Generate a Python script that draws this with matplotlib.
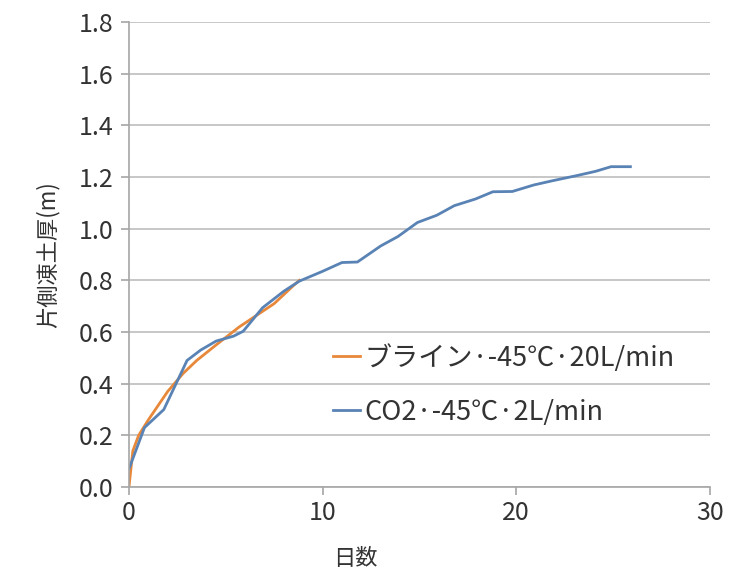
import matplotlib
matplotlib.use("Agg")
import matplotlib.pyplot as plt

plt.rcParams['font.family'] = ['Noto Sans CJK JP', 'DejaVu Sans']

# ブライン (brine) -45℃ 20L/min
brine_days = [0.0, 0.2, 0.5, 1.0, 2.0, 2.8, 3.5, 4.5, 5.7, 6.5, 7.5, 8.5, 8.8]
brine_thick = [0.0, 0.14, 0.20, 0.26, 0.37, 0.44, 0.49, 0.55, 0.62, 0.66, 0.71, 0.78, 0.80]

# CO2 -45℃ 2L/min
co2_days = [0.0, 0.8, 1.8, 3.0, 3.7, 4.5, 5.4, 5.9, 6.9, 8.0, 8.8, 10.0, 11.0, 11.8,
            13.0, 13.9, 14.9, 15.9, 16.8, 17.9, 18.8, 19.8, 20.9, 21.9, 23.1, 24.1,
            24.9, 25.9]
co2_thick = [0.07, 0.23, 0.30, 0.49, 0.53, 0.565, 0.584, 0.603, 0.694, 0.758, 0.797,
             0.835, 0.869, 0.871, 0.933, 0.97, 1.024, 1.052, 1.089, 1.115, 1.143,
             1.144, 1.169, 1.186, 1.205, 1.222, 1.24, 1.24]

x_ticks = [0, 10, 20, 30]
y_ticks = [0.0, 0.2, 0.4, 0.6, 0.8, 1.0, 1.2, 1.4, 1.6, 1.8]

fig = plt.figure(figsize=(7.34, 5.73), dpi=100)
ax = fig.add_axes([0.1757, 0.150, 0.967 - 0.1757, 0.9616 - 0.150])

ax.plot(brine_days, brine_thick, color='#E8883A', lw=2.0, label='ブライン·-45℃·20L/min')
ax.plot(co2_days, co2_thick, color='#5A83B5', lw=2.0, label='CO2·-45℃·2L/min')

ax.set_xlim(0, 30)
ax.set_ylim(0, 1.8)
ax.set_xticks(x_ticks)
ax.set_yticks(y_ticks)
ax.set_yticklabels([f'{v:.1f}' for v in y_ticks])
ax.grid(axis='y', color='#BEBEBE', lw=1.2)
ax.set_axisbelow(True)

for s in ['top', 'right']:
    ax.spines[s].set_visible(False)
for s in ['left', 'bottom']:
    ax.spines[s].set_color('#A6A6A6')
    ax.spines[s].set_linewidth(1.2)
ax.tick_params(axis='both', colors='#A6A6A6', length=6, width=1.2, labelsize=18,
               labelcolor='#333333')
ax.tick_params(axis='y', pad=5)
ax.tick_params(axis='x', pad=3)

ax.set_xlabel('日数', fontsize=16, color='#333333')
ax.xaxis.set_label_coords(0.39, -0.128)
ax.set_ylabel('片側凍土厚(m)', fontsize=16, color='#333333', labelpad=14)

ax.legend(loc='upper left', bbox_to_anchor=(0.31, 0.36), frameon=False, fontsize=19.5,
          handlelength=1.0, handletextpad=0.15, labelspacing=1.0, labelcolor='#333333')

fig.savefig('out.png', dpi=100)
